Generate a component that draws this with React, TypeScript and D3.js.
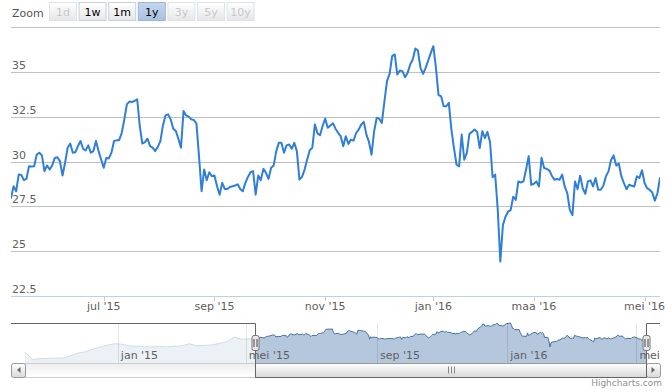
import React from 'react';
import * as d3 from 'd3';

// weekly closes shown only in the navigator (before the selected year)
const historyValues = [
  21.9, 18.2, 18.5, 18.7, 18.8, 18.8, 19.8, 21.3, 21.9, 23.2,
  24.3, 25.3, 26.0, 25.8, 25.0, 24.8, 24.5, 24.4, 24.7, 24.4,
  24.8, 25.0, 26.0, 25.0, 25.2, 25.4, 26.2, 27.0, 29.4, 28.3,
  28.5,
];

// daily closes, one per trading day from 11 May 2015
const priceValues = [
  27.97, 28.62, 28.34, 29.27, 29.25, 28.96, 29.03, 29.74, 29.72, 29.74,
  30.39, 30.49, 30.34, 29.46, 29.78, 29.55, 29.78, 30.2, 30.24, 30.02,
  29.22, 29.93, 30.77, 31.0, 30.49, 30.52, 30.86, 31.14, 30.71, 30.62,
  30.9, 30.49, 30.58, 31.14, 30.58, 30.11, 29.65, 30.2, 30.17, 30.49,
  31.14, 31.18, 31.19, 31.6, 32.35, 33.19, 33.34, 33.32, 33.38, 33.47,
  31.98, 31.0, 31.08, 31.27, 30.86, 30.77, 30.58, 30.82, 31.14, 32.01,
  32.57, 32.63,
  32.35, 31.83, 31.7, 31.27, 30.77, 32.82, 32.57, 32.5, 32.35, 32.31,
  32.13, 30.3, 28.34, 29.55, 28.96, 29.4, 29.18, 29.22, 28.62, 28.15,
  28.81, 28.47, 28.47, 28.58, 28.62, 28.66, 28.73, 28.47, 28.34, 28.81,
  29.14, 29.4, 29.46, 28.15, 29.22, 28.96, 29.59, 29.37, 29.03, 29.65,
  29.78, 30.58, 31.04, 31.04, 30.49, 30.9, 30.95, 30.71, 31.04, 30.58,
  28.99, 29.14, 29.55, 30.11, 30.63, 30.77, 32.07, 31.57, 31.46, 31.98,
  32.39, 31.88, 32.01, 32.13, 31.83, 31.6, 31.42,
  30.85, 31.41, 30.98, 31.22, 31.16, 31.59, 31.78, 32.06, 32.21, 31.5,
  31.09, 30.38, 31.69, 32.43, 32.39, 32.15, 33.36, 34.48, 34.89, 35.88,
  35.97, 34.85, 35.07, 35.04, 34.7, 34.94, 35.41, 35.69, 36.3, 36.19,
  35.22, 34.89, 35.22, 35.63, 36.06, 36.43, 35.22, 33.7, 33.64, 33.08,
  33.08, 33.27, 31.78, 30.75, 29.82, 29.73, 31.5, 30.1, 30.48, 31.54,
  31.65, 31.78, 31.65, 30.75, 31.69, 31.31, 31.65, 31.09, 29.12, 29.27,
  27.31, 24.42,
  26.45, 26.92, 27.2, 27.29, 28.04, 27.86, 28.89, 28.83, 28.89, 29.55,
  30.3, 28.7, 28.76, 28.89, 28.61, 30.21, 29.64, 29.59, 29.51, 29.21,
  28.98, 29.02, 28.98, 29.27, 28.61, 28.23, 27.29, 27.01, 28.89, 28.46,
  29.21, 28.51, 28.2, 28.89, 28.95, 28.61, 29.08, 28.42, 28.42, 28.65,
  29.17, 29.45, 30.08, 30.34, 29.77, 29.89, 29.17, 28.8, 28.46, 28.7,
  28.65, 28.61, 29.17, 29.08, 29.51, 28.8, 28.51, 28.42, 28.27, 27.82,
  28.23, 29.08,
];

const marketHolidays = [
  '2015-05-25', '2015-07-03', '2015-09-07', '2015-11-26', '2015-12-25',
  '2016-01-01', '2016-01-18', '2016-02-15', '2016-03-25',
];

const yTicks = [22.5, 25, 27.5, 30, 32.5, 35, 37.5];
const shortMonths = ['jan', 'feb', 'maa', 'apr', 'mei', 'jun', 'jul', 'aug', 'sep', 'okt', 'nov', 'dec'];
const zoomButtons = ['1d', '1w', '1m', '1y', '3y', '5y', '10y'];
const disabledZoom = ['1d', '3y', '5y', '10y'];
const activeZoom = '1y';

const W = 672;
const H = 392;
const plot = { left: 11, right: 660, top: 27, bottom: 296 };
const nav = { left: 25, right: 646, top: 323, bottom: 363, scrollBottom: 377 };
const font = '"DejaVu Sans", Verdana, sans-serif';

function tradingDays(start: Date, count: number) {
  const out: Date[] = [];
  let d = start;
  while (out.length < count) {
    const wd = d.getUTCDay();
    const key = d3.utcFormat('%Y-%m-%d')(d);
    if (wd !== 0 && wd !== 6 && !marketHolidays.includes(key)) out.push(d);
    d = d3.utcDay.offset(d, 1);
  }
  return out;
}

const fmtMonth = (d: Date) => `${shortMonths[d.getUTCMonth()]} '${String(d.getUTCFullYear()).slice(2)}`;

export default function App() {
  const dates = tradingDays(new Date(Date.UTC(2015, 4, 11)), priceValues.length);
  const histDates = historyValues.map((_, i) => d3.utcWeek.offset(new Date(Date.UTC(2014, 9, 6)), i));

  // main chart: ordinal x (trading day index)
  const x = d3.scaleLinear().domain([0, priceValues.length - 1]).range([plot.left, plot.right]);
  const y = d3.scaleLinear().domain([22.5, 37.5]).range([plot.bottom, plot.top]);
  const line = d3.line<number>().x((_, i) => x(i)).y(d => y(d));

  const mainTicks = dates
    .map((d, i) => ({ d, i }))
    .filter(({ d, i }) => i > 0 && d.getUTCMonth() !== dates[i - 1].getUTCMonth() && d.getUTCMonth() % 2 === 0);

  // navigator
  const navData = [
    ...histDates.map((d, i) => ({ date: d, value: historyValues[i] })),
    ...dates.map((d, i) => ({ date: d, value: priceValues[i] })),
  ];
  const nx = d3.scaleUtc()
    .domain(d3.extent(navData, d => d.date) as [Date, Date])
    .range([nav.left, nav.right]);
  const [vMin, vMax] = d3.extent(navData, d => d.value) as [number, number];
  const ny = d3.scaleLinear().domain([vMin - 0.1 * (vMax - vMin), vMax]).range([nav.bottom, nav.top]);
  const navArea = d3.area<{ date: Date; value: number }>()
    .x(d => nx(d.date)).y0(nav.bottom).y1(d => ny(d.value));
  const navLine = d3.line<{ date: Date; value: number }>()
    .x(d => nx(d.date)).y(d => ny(d.value));
  const navTicks = nx.ticks(d3.utcMonth.every(4)!);

  const lastDate = dates[dates.length - 1];
  const zMin = Math.round(nx(d3.utcYear.offset(lastDate, -1))) + 0.5;
  const zMax = Math.round(nx(lastDate)) + 0.5;
  const midY = (nav.top + nav.bottom) / 2;
  const sbMid = (nav.bottom + nav.scrollBottom) / 2;

  const handle = (hx: number) => (
    <g key={hx}>
      <rect x={hx - 3.5} y={midY - 7.5} width={7} height={15} rx={2} fill="#ebe7e8" stroke="#777" />
      <line x1={hx - 1.5} x2={hx - 1.5} y1={midY - 4} y2={midY + 4} stroke="#444" />
      <line x1={hx + 1.5} x2={hx + 1.5} y1={midY - 4} y2={midY + 4} stroke="#444" />
    </g>
  );

  return (
    <svg width={W} height={H} style={{ position: 'absolute', left: 0, top: 0, fontFamily: font }}>
      <defs>
        <clipPath id="plotClip">
          <rect x={plot.left} y={plot.top - 2} width={plot.right - plot.left} height={plot.bottom - plot.top + 4} />
        </clipPath>
        <clipPath id="navClip">
          <rect x={plot.left} y={nav.top} width={plot.right - plot.left + 1} height={nav.bottom - nav.top} />
        </clipPath>
        <linearGradient id="btnGrad" x1="0" y1="0" x2="0" y2="1">
          <stop offset="0" stopColor="#ffffff" />
          <stop offset="1" stopColor="#e6e6e6" />
        </linearGradient>
        <linearGradient id="btnSel" x1="0" y1="0" x2="0" y2="1">
          <stop offset="0" stopColor="#c5d6ee" />
          <stop offset="1" stopColor="#a9c1e3" />
        </linearGradient>
        <linearGradient id="trackGrad" x1="0" y1="0" x2="0" y2="1">
          <stop offset="0" stopColor="#eeeeee" />
          <stop offset="1" stopColor="#ffffff" />
        </linearGradient>
        <linearGradient id="barGrad" x1="0" y1="0" x2="0" y2="1">
          <stop offset="0" stopColor="#ffffff" />
          <stop offset="1" stopColor="#d8d8d8" />
        </linearGradient>
      </defs>

      {/* range selector */}
      <text x={12} y={17} fontSize={11} fill="#555">Zoom</text>
      {zoomButtons.map((b, i) => {
        const bx = 49.5 + i * 29.6;
        const disabled = disabledZoom.includes(b);
        const active = b === activeZoom;
        return (
          <g key={b}>
            <rect x={bx} y={2.5} width={27} height={18}
              fill={active ? 'url(#btnSel)' : 'url(#btnGrad)'}
              stroke={active ? '#9fb5d6' : disabled ? '#dde3ec' : '#c5d0df'} />
            <text x={bx + 13.5} y={16} fontSize={11} textAnchor="middle"
              fill={disabled ? '#c8c8c8' : '#000'}>{b}</text>
          </g>
        );
      })}

      {/* y grid + labels */}
      {yTicks.map((t, i) => (
        <g key={t}>
          <line x1={plot.left} x2={plot.right} y1={Math.round(y(t)) + 0.5} y2={Math.round(y(t)) + 0.5} stroke="#c0c0c0" />
          {i < yTicks.length - 1 && (
            <text x={12} y={y(t) - 3} fontSize={11} fill="#606060">{t}</text>
          )}
        </g>
      ))}

      {/* x axis */}
      <line x1={plot.left} x2={plot.right} y1={plot.bottom + 0.5} y2={plot.bottom + 0.5} stroke="#c0d0e0" />
      {mainTicks.map(({ d, i }) => (
        <g key={i}>
          <line x1={Math.round(x(i)) + 0.5} x2={Math.round(x(i)) + 0.5} y1={plot.bottom} y2={plot.bottom + 5} stroke="#c0d0e0" />
          <text x={x(i)} y={310} fontSize={11} fill="#606060" textAnchor="middle">{fmtMonth(d)}</text>
        </g>
      ))}

      {/* price line */}
      <path d={line(priceValues) ?? ''} fill="none" stroke="#2f7ed8" strokeWidth={2}
        strokeLinejoin="round" strokeLinecap="round" clipPath="url(#plotClip)" />

      {/* navigator */}
      <path d={navArea(navData) ?? ''} fill="#4572a7" fillOpacity={0.4} />
      <path d={navLine(navData) ?? ''} fill="none" stroke="#4572a7" strokeWidth={1} />
      <rect x={nav.left} y={nav.top} width={zMin - nav.left} height={nav.bottom - nav.top} fill="rgba(255,255,255,0.75)" />
      <rect x={zMax} y={nav.top} width={Math.max(0, nav.right - zMax)} height={nav.bottom - nav.top} fill="rgba(255,255,255,0.75)" />
      {navTicks.map(t => (
        <line key={+t} x1={Math.round(nx(t)) + 0.5} x2={Math.round(nx(t)) + 0.5} y1={nav.top} y2={nav.bottom} stroke="rgba(0,0,0,0.1)" />
      ))}
      <g clipPath="url(#navClip)">
        {navTicks.map(t => (
          <text key={+t} x={nx(t) + 3} y={nav.bottom - 4} fontSize={11} fill="#606060">{fmtMonth(t)}</text>
        ))}
      </g>

      {/* scrollbar */}
      <rect x={nav.left + 0.5} y={nav.bottom + 0.5} width={nav.right - nav.left} height={nav.scrollBottom - nav.bottom}
        fill="url(#trackGrad)" stroke="#cccccc" />
      <rect x={zMin} y={nav.bottom + 0.5} width={zMax - zMin} height={nav.scrollBottom - nav.bottom}
        fill="url(#barGrad)" stroke="#999" />
      {[-3, 0, 3].map(o => (
        <line key={o} x1={Math.round((zMin + zMax) / 2) + o + 0.5} x2={Math.round((zMin + zMax) / 2) + o + 0.5}
          y1={sbMid - 3.5} y2={sbMid + 3.5} stroke="#888" />
      ))}
      <rect x={plot.left + 0.5} y={nav.bottom + 0.5} width={nav.left - plot.left} height={nav.scrollBottom - nav.bottom}
        rx={2} fill="url(#barGrad)" stroke="#999" />
      <path d={`M${plot.left + 9.5},${sbMid - 3}L${plot.left + 6},${sbMid}L${plot.left + 9.5},${sbMid + 3}Z`} fill="#666" />
      <rect x={nav.right + 0.5} y={nav.bottom + 0.5} width={plot.right - nav.right} height={nav.scrollBottom - nav.bottom}
        rx={2} fill="url(#barGrad)" stroke="#999" />
      <path d={`M${nav.right + 5.5},${sbMid - 3}L${nav.right + 9},${sbMid}L${nav.right + 5.5},${sbMid + 3}Z`} fill="#666" />

      {/* outline */}
      <path d={`M${plot.left},${nav.top + 0.5}H${zMin}V${nav.scrollBottom + 0.5}H${zMax}V${nav.top + 0.5}H${plot.right}`}
        fill="none" stroke="#666" />
      {handle(zMin)}
      {handle(zMax)}

      <text x={662} y={386} fontSize={9} fill="#909090" textAnchor="end">Highcharts.com</text>
    </svg>
  );
}
